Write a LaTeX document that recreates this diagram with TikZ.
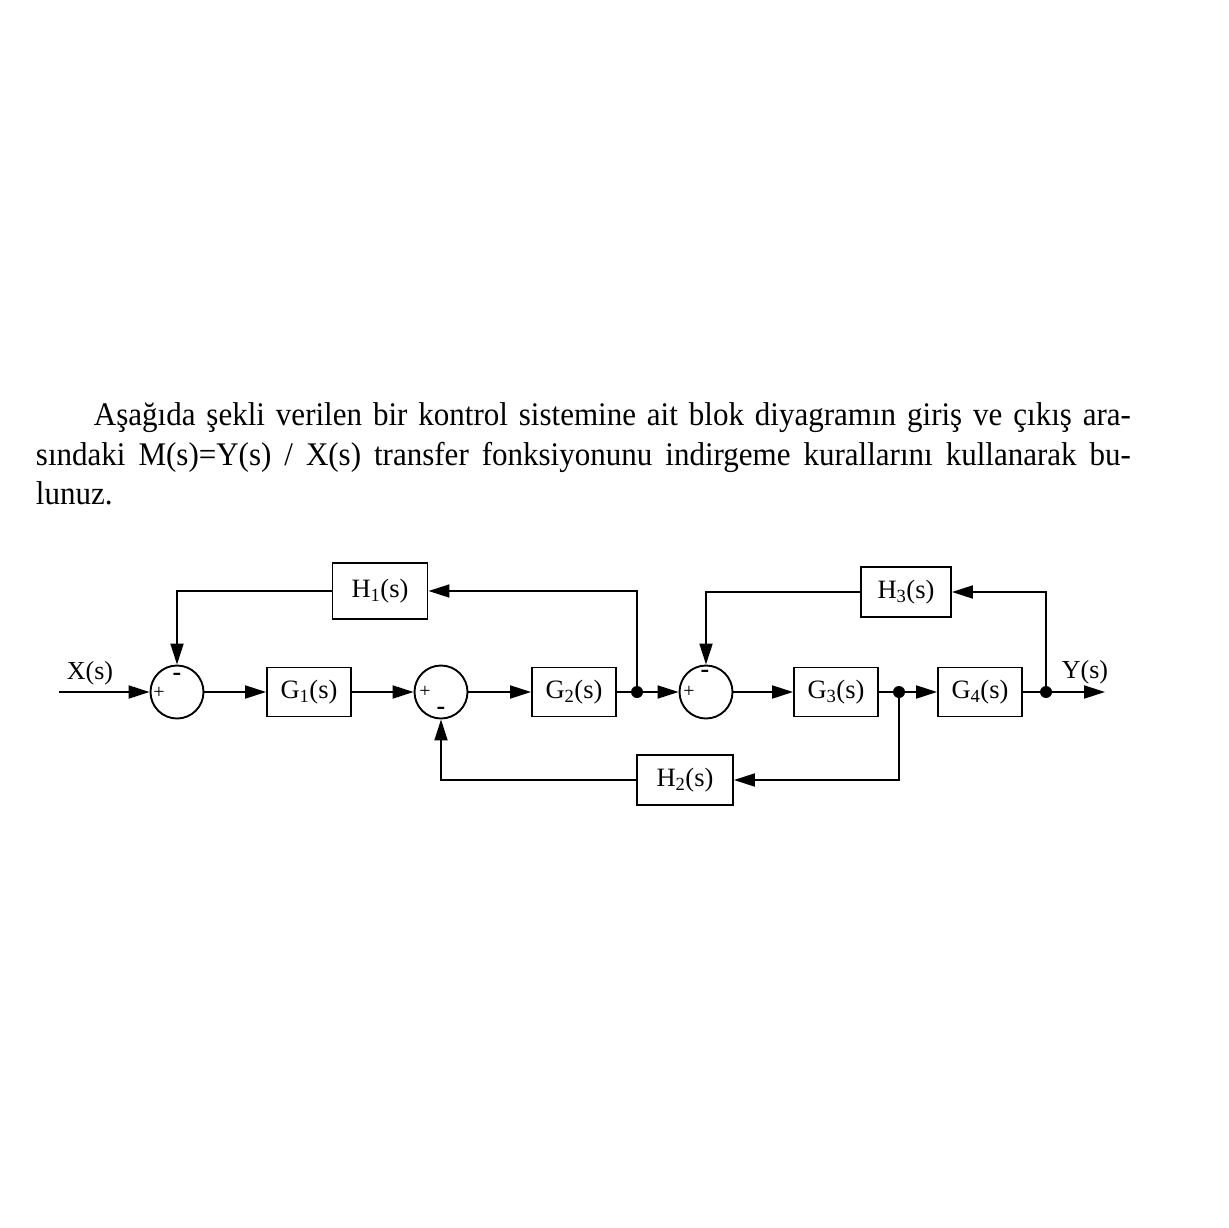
\documentclass[tikz,border=0pt]{standalone}
\usepackage{fontspec}
\setmainfont{Liberation Serif}
\newfontfamily\parafont[FakeStretch=0.94]{Liberation Serif}
\usetikzlibrary{arrows.meta}
\begin{document}
\begin{tikzpicture}[x=1pt,y=-1pt,
  line width=1.9pt,
  blk/.style={draw,line width=1.9pt,minimum width=84pt,minimum height=49pt,inner sep=0pt,font=\fontsize{26.5}{30}\selectfont},
  sumj/.style={draw,circle,minimum size=53pt,inner sep=0pt,line width=1.9pt},
  jdot/.style={circle,fill,minimum size=12pt,inner sep=0pt},
  sig/.style={-{Triangle[length=21pt,width=13pt]}},
  pl/.style={font=\fontsize{20}{20}\selectfont,inner sep=0pt},
  mi/.style={font=\bfseries\fontsize{26}{26}\selectfont,inner sep=0pt},
  lbl/.style={font=\fontsize{26}{30}\selectfont,inner sep=0pt}
]
\useasboundingbox[fill=white] (0,0) rectangle (1228,1228);

\node[anchor=north west,inner sep=0pt,text width=1095pt,align=justify,
      font=\parafont\fontsize{33}{39.5}\selectfont] (para) at (35,402)
  {\hspace*{58pt}Aşağıda şekli verilen bir kontrol sistemine ait blok diyagramın giriş ve çıkış ara-\linebreak
   sındaki M(s)=Y(s) / X(s) transfer fonksiyonunu indirgeme kurallarını kullanarak bu-\linebreak
   lunuz.};

% main path
\node[sumj] (s1) at (177,692) {};
\node[blk] (g1) at (309,692) {G\textsubscript{1}(s)};
\node[sumj] (s2) at (441,692) {};
\node[blk] (g2) at (574,692) {G\textsubscript{2}(s)};
\node[jdot] (d1) at (637,692) {};
\node[sumj] (s3) at (706,692) {};
\node[blk] (g3) at (836,692) {G\textsubscript{3}(s)};
\node[jdot] (d2) at (899,692) {};
\node[blk] (g4) at (980,692) {G\textsubscript{4}(s)};
\node[jdot] (d3) at (1046,692) {};

% feedback blocks
\node[blk,minimum width=95pt,minimum height=56pt] (h1) at (380,591) {H\textsubscript{1}(s)};
\node[blk,minimum width=96pt,minimum height=50pt] (h2) at (685,780) {H\textsubscript{2}(s)};
\node[blk,minimum width=90pt,minimum height=50pt] (h3) at (906,592) {H\textsubscript{3}(s)};

\coordinate (xin) at (59,692);
\coordinate (yout) at (1105,692);

% labels
\node[lbl] (xl) at (90,673) {X(s)};
\node[lbl] (yl) at (1085,672) {Y(s)};

% signs
\node[pl] (p1) at (159,693) {+};
\node[mi] (m1) at (177,677) {-};
\node[pl] (p2) at (425,692) {+};
\node[mi] (m2) at (441,711) {-};
\node[pl] (p3) at (689,692) {+};
\node[mi] (m3) at (705,674) {-};

% forward connectors
\draw[sig] (xin) -- (s1.west);
\draw[sig] (s1.east) -- (g1.west);
\draw[sig] (g1.east) -- (s2.west);
\draw[sig] (s2.east) -- (g2.west);
\draw (g2.east) -- (d1.center);
\draw[sig] (d1.center) -- (s3.west);
\draw[sig] (s3.east) -- (g3.west);
\draw (g3.east) -- (d2.center);
\draw[sig] (d2.center) -- (g4.west);
\draw (g4.east) -- (d3.center);
\draw[sig] (d3.center) -- (yout);

% feedback connectors
\draw[sig] (d1.center) |- (h1.east);
\draw[sig] (h1.west) -| (s1.north);
\draw[sig] (d2.center) |- (h2.east);
\draw[sig] (h2.west) -| (s2.south);
\draw[sig] (d3.center) |- (h3.east);
\draw[sig] (h3.west) -| (s3.north);
\end{tikzpicture}
\end{document}
